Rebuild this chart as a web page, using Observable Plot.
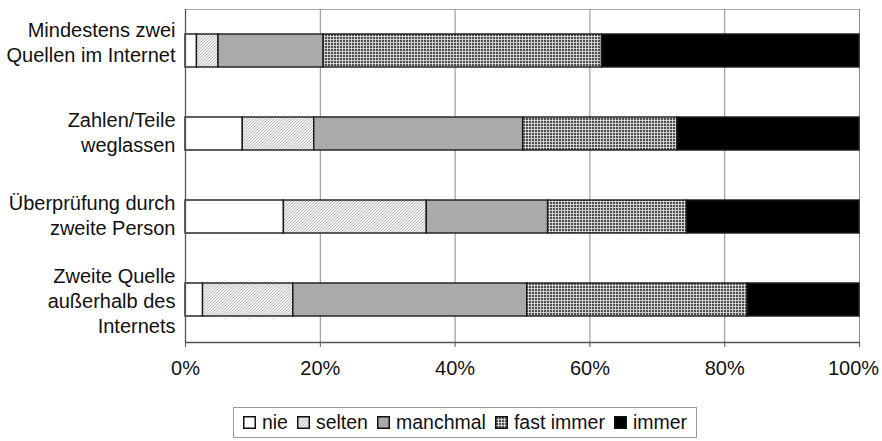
<!DOCTYPE html>
<html><head><meta charset="utf-8">
<script src="https://cdn.jsdelivr.net/npm/d3@7"></script>
<script src="https://cdn.jsdelivr.net/npm/@observablehq/plot@0.6"></script>
<style>
body{margin:0;background:#fff;font-family:"Liberation Sans",Arial,sans-serif;}
#chart{width:882px;height:400px;}
#legend{position:relative;margin-top:7px;height:31px;}
#legend .box{position:absolute;left:233px;width:462px;height:29px;border:1px solid #9a9a9a;display:flex;align-items:center;justify-content:center;gap:9px;font-size:19.5px;color:#111;}
.item{display:flex;align-items:center;gap:6px;}
.item svg{display:block;}
</style></head><body>
<svg width="0" height="0" style="position:absolute">
<defs>
<pattern id="pSelten" width="3" height="3" patternUnits="userSpaceOnUse">
 <rect width="3" height="3" fill="#efefef"/>
 <path d="M0,3 L3,0 M-1,1 L1,-1 M2,4 L4,2" stroke="#a6a6a6" stroke-width="0.7"/>
</pattern>
<pattern id="pFast" width="3" height="3" patternUnits="userSpaceOnUse">
 <rect width="3" height="3" fill="#505050"/>
 <path d="M0,0.5 H3 M0.5,0 V3" stroke="#e6e6e6" stroke-width="0.8"/>
</pattern>
</defs></svg>
<div id="chart"></div>
<div id="legend"><div class="box"></div></div>
<script>
const categories = ["Mindestens zwei\nQuellen im Internet", "Zahlen/Teile\nweglassen", "Überprüfung durch\nzweite Person", "Zweite Quelle\naußerhalb des\nInternets"];
const series = ["nie", "selten", "manchmal", "fast immer", "immer"];
const nie = [1.7, 8.5, 14.6, 2.6];
const selten = [3.2, 10.6, 21.2, 13.4];
const manchmal = [15.6, 31.0, 18.0, 34.7];
const fastImmer = [41.3, 22.9, 20.6, 32.7];
const immer = [38.2, 27.0, 25.6, 16.6];
const xTicks = [0, 20, 40, 60, 80, 100];
const fills = ["#ffffff", "url(#pSelten)", "#aaaaaa", "url(#pFast)", "#000000"];

const values = [nie, selten, manchmal, fastImmer, immer];
const data = [];
categories.forEach((c, i) => series.forEach((s, j) => data.push({category: c, series: s, value: values[j][i]})));

const yLabel = {tickSize: 0, tickPadding: 10, fontSize: 20, lineHeight: 1.25, label: null};
const xLabel = {tickFormat: d => d + "%", tickSize: 0, tickPadding: 18, fontSize: 20, label: null};

const chart = Plot.plot({
  width: 882, height: 400,
  marginLeft: 185, marginRight: 23, marginTop: 9, marginBottom: 58,
  style: {fontFamily: "Liberation Sans, Arial, sans-serif", fontSize: "16px", color: "#111", background: "white"},
  x: {domain: [0, 100]},
  y: {domain: categories, paddingInner: 0.6, paddingOuter: 0.3},
  color: {domain: series, range: fills},
  marks: [
    Plot.frame({stroke: "#a8a8a8"}),
    Plot.gridX(xTicks, {stroke: "#8c8c8c", strokeOpacity: 1}),
    Plot.barX(data, {x: "value", y: "category", fill: "series", stroke: "#1a1a1a", strokeWidth: 1.4}),
    Plot.ruleX([0], {stroke: "#555", strokeWidth: 1.3}),
    Plot.frame({anchor: "bottom", stroke: "#555", strokeWidth: 1.3}),
    Plot.axisX(xTicks, {tickFormat: () => "", tickSize: 5, stroke: "#555", label: null}),
    Plot.axisX(xTicks.slice(0, -1), xLabel),
    Plot.axisX(xTicks.slice(-1), {...xLabel, dx: -6}),
    Plot.axisY([categories[0]], {...yLabel, dy: -10}),
    Plot.axisY([categories[1], categories[2]], {...yLabel, dy: -3}),
    Plot.axisY([categories[3]], {...yLabel, dy: 0})
  ]
});
document.getElementById("chart").appendChild(chart);

const box = document.querySelector("#legend .box");
series.forEach((s, j) => {
  const item = document.createElement("div");
  item.className = "item";
  item.innerHTML = `<svg width="13" height="13"><rect x="0.75" y="0.75" width="11.5" height="11.5" fill="${fills[j]}" stroke="#111" stroke-width="1.5"/></svg><span>${s}</span>`;
  box.appendChild(item);
});
</script>
</body></html>
